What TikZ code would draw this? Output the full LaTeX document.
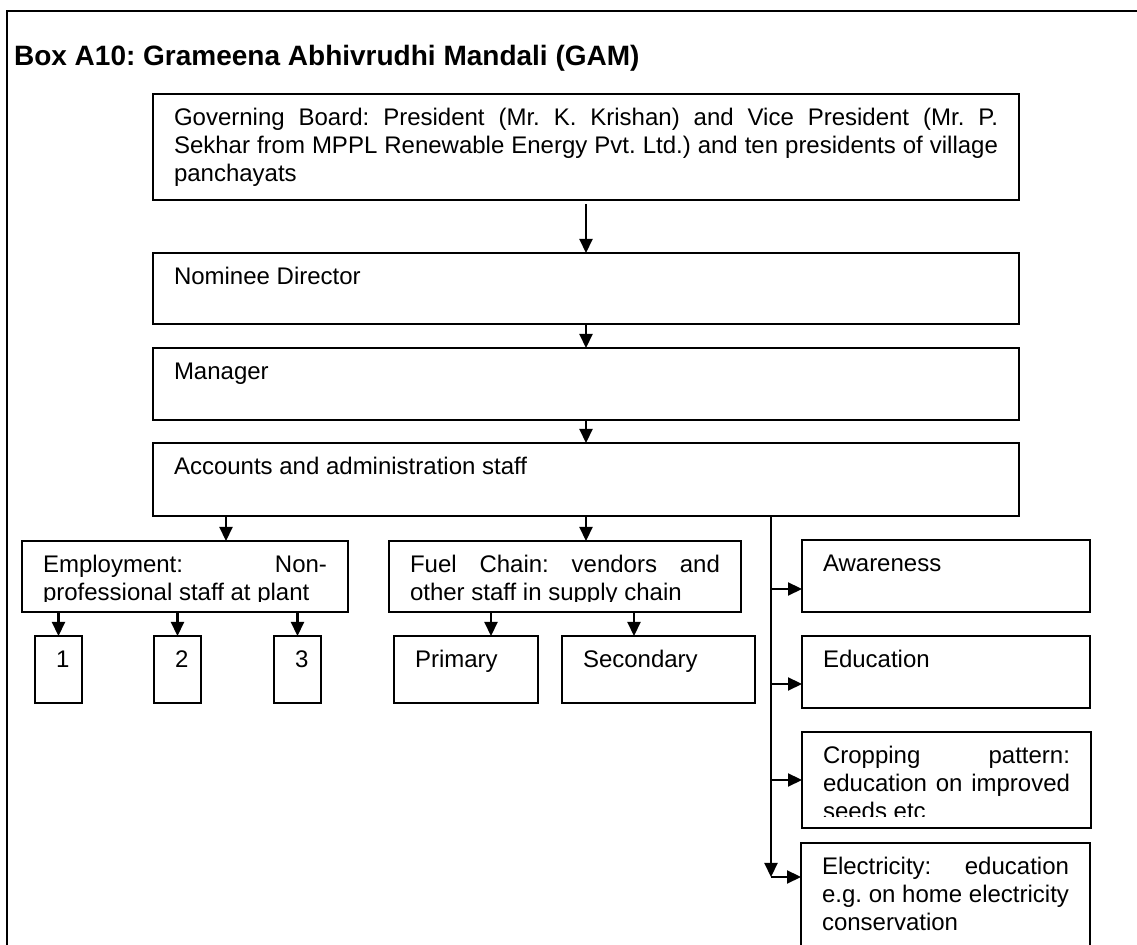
\documentclass[tikz,border=0pt]{standalone}
\usepackage{fontspec}
\setmainfont{Liberation Sans}
\usetikzlibrary{arrows.meta}
\frenchspacing
\tolerance=10000
\hyphenpenalty=10000

\begin{document}
\begin{tikzpicture}[x=0.5pt,y=-0.5pt,
	-{Triangle[length=7pt,width=6.5pt]}, line width=1.1pt,
	box/.style={draw, line width=1pt, anchor=north west, outer sep=0pt,
		inner xsep=10.5pt, inner ysep=0pt, text height=16pt,
		align=justify, font=\fontsize{12}{13.8}\selectfont}]

\useasboundingbox (0,0) rectangle (1137,945);
\clip (0,0) rectangle (1137,945);
\draw[-, line width=1.35pt] (7,11) rectangle (1170,990);

\node (title) [anchor=base west, inner sep=0pt, font=\fontsize{14}{16}\selectfont\bfseries] at (13,66) {Box A10: Grameena Abhivrudhi Mandali (GAM)};

\node (gb)	[box, text width=412pt, text depth=37pt]	at (153,94)	{Governing Board: President (Mr. K. Krishan) and Vice President (Mr. P.\linebreak Sekhar from MPPL Renewable Energy Pvt. Ltd.) and ten presidents of village\linebreak panchayats};
\node (nd)	[box, text width=412pt, text depth=19.5pt]	at (153,253)	{Nominee Director};
\node (mgr)	[box, text width=412pt, text depth=20pt]	at (153,348)	{Manager};
\node (acc)	[box, text width=412pt, text depth=20.5pt]	at (153,443)	{Accounts and administration staff};

\node (emp)	[box, text width=142pt, text depth=19.5pt]	at (22,541)	{Employment: Non-\linebreak professional staff at plant};
\node (fuel)	[box, text width=155pt, text depth=19.5pt]	at (389,541)	{Fuel Chain: vendors and\linebreak other staff in supply chain};

\node (one)	[box, text width=2.5pt, text depth=17.5pt]	at (35,636)	{1};
\node (two)	[box, text width=2.5pt, text depth=17.5pt]	at (154,636)	{2};
\node (three)	[box, text width=2.5pt, text depth=17.5pt]	at (274,636)	{3};
\node (pri)	[box, text width=51pt, text depth=17.5pt]	at (394,636)	{Primary};
\node (sec)	[box, text width=75.5pt, text depth=17.5pt]	at (562,636)	{Secondary};

\node (aware)	[box, text width=123pt, text depth=20pt]	at (802,540)	{Awareness};
\node (edu)	[box, text width=123pt, text depth=20pt]	at (802,636)	{Education};
\node (crop)	[box, text width=123.5pt, text depth=32pt]	at (802,732)	{Cropping pattern:\linebreak education on improved\linebreak seeds etc};
\node (elec)	[box, text width=123.5pt, text depth=44pt]	at (801,843)	{Electricity: education\linebreak e.g. on home electricity\linebreak conservation};

% text that runs past the bottom margin is cut off
\foreach \n/\h in {emp/5pt, fuel/5pt, crop/5.5pt}
	\fill[white] ([shift={(0.6pt,0.6pt)}]\n.south west) rectangle ([shift={(-0.6pt,\h)}]\n.south east);

\draw ([yshift=-2pt]gb.south)	-- (nd.north);
\draw (nd.south)	-- (mgr.north);
\draw (mgr.south)	-- (acc.north);

\coordinate (e0) at ([xshift=36.5pt]acc.south west);
\coordinate (bus) at ([xshift=309pt]acc.south west);
\draw (e0)	-- (e0 |- emp.north);
\draw (acc.south)	-- (acc.south |- fuel.north);

\foreach \n in {one,two,three}
	\draw (emp.south -| \n.north)	-- (\n.north);
\coordinate (f1) at ([xshift=48.5pt]pri.north west);
\coordinate (f2) at ([xshift=36pt]sec.north west);
\draw (fuel.south -| f1)	-- (f1);
\draw (fuel.south -| f2)	-- (f2);

\draw (bus)	-- ([yshift=-17pt]elec.north west -| bus);
\foreach \n/\d in {aware/24.5pt, edu/24pt, crop/24pt, elec/17pt}{
	\coordinate (\n-in) at ([yshift=-\d]\n.north west);
	\draw (\n-in -| bus)	-- (\n-in);
}

\end{tikzpicture}
\end{document}
